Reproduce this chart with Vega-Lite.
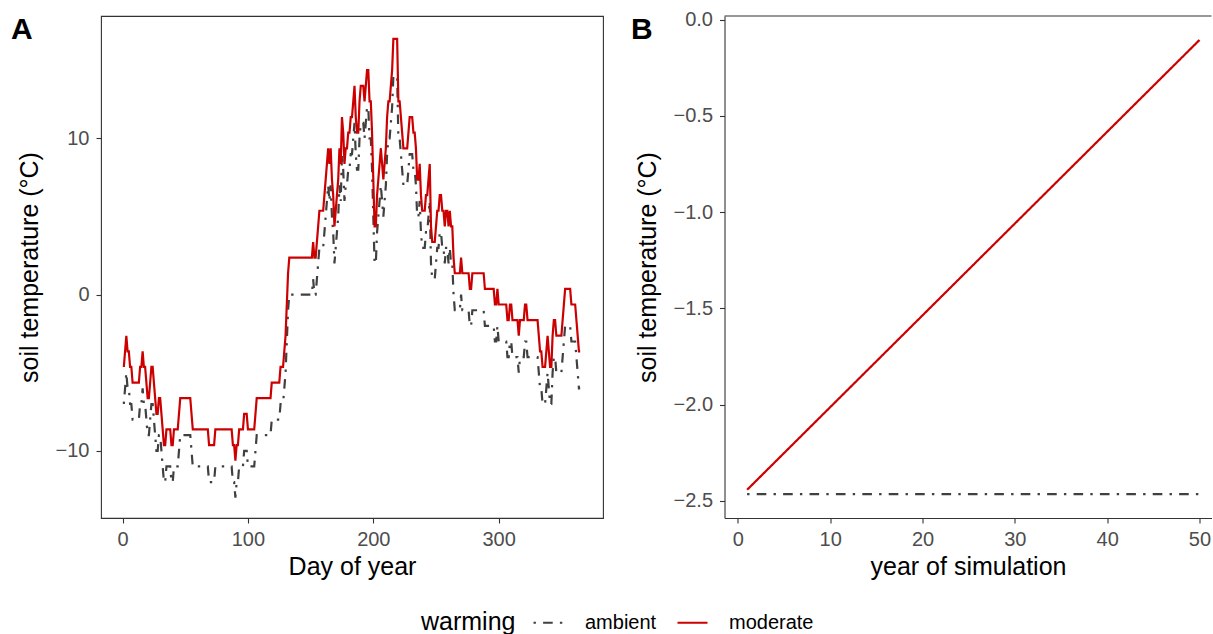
{
  "$schema": "https://vega.github.io/schema/vega-lite/v6.json",
  "padding": {"left": 10, "top": 9, "right": 0, "bottom": 0},
  "bounds": "flush",
  "spacing": 121.5,
  "config": {
    "font": "Liberation Sans",
    "view": {"stroke": "#333333", "strokeWidth": 1.1},
    "axis": {"grid": false, "domain": false, "tickColor": "#333333", "tickWidth": 1.1, "tickSize": 5, "labelColor": "#4D4D4D", "labelFontSize": 20, "titleFontSize": 25, "titleFontWeight": "normal", "titleColor": "#000000", "labelPadding": 6},
    "axisY": {"labelPadding": 7, "titlePadding": 13},
    "axisX": {"titlePadding": 5}
  },
  "datasets": {
    "daily": [
      {"day":1,"ambient":-7,"moderate":-4.63},{"day":2,"ambient":-6,"moderate":-3.63},{"day":3,"ambient":-5,"moderate":-2.63},{"day":4,"ambient":-6,"moderate":-3.63},{"day":5,"ambient":-6,"moderate":-3.63},{"day":6,"ambient":-7,"moderate":-4.63},{"day":7,"ambient":-7,"moderate":-4.63},{"day":8,"ambient":-8,"moderate":-5.63},{"day":13,"ambient":-8,"moderate":-5.63},{"day":14,"ambient":-7,"moderate":-4.63},{"day":15,"ambient":-7,"moderate":-4.63},{"day":16,"ambient":-6,"moderate":-3.63},{"day":17,"ambient":-7,"moderate":-4.63},{"day":18,"ambient":-7,"moderate":-4.63},{"day":19,"ambient":-8,"moderate":-5.63},{"day":20,"ambient":-9,"moderate":-6.63},{"day":21,"ambient":-9,"moderate":-6.63},{"day":22,"ambient":-8,"moderate":-5.63},{"day":23,"ambient":-7,"moderate":-4.63},{"day":24,"ambient":-7,"moderate":-4.63},{"day":25,"ambient":-8,"moderate":-5.63},{"day":26,"ambient":-9,"moderate":-6.63},{"day":27,"ambient":-10,"moderate":-7.63},{"day":28,"ambient":-10,"moderate":-7.63},{"day":29,"ambient":-9,"moderate":-6.63},{"day":30,"ambient":-9,"moderate":-6.63},{"day":31,"ambient":-10,"moderate":-7.63},{"day":32,"ambient":-11,"moderate":-8.63},{"day":33,"ambient":-12,"moderate":-9.63},{"day":34,"ambient":-12,"moderate":-9.63},{"day":35,"ambient":-11,"moderate":-8.63},{"day":38,"ambient":-11,"moderate":-8.63},{"day":39,"ambient":-12,"moderate":-9.63},{"day":40,"ambient":-12,"moderate":-9.63},{"day":41,"ambient":-11,"moderate":-8.63},{"day":44,"ambient":-11,"moderate":-8.63},{"day":45,"ambient":-10,"moderate":-7.63},{"day":46,"ambient":-9,"moderate":-6.63},{"day":54,"ambient":-9,"moderate":-6.63},{"day":55,"ambient":-10,"moderate":-7.63},{"day":56,"ambient":-11,"moderate":-8.63},{"day":68,"ambient":-11,"moderate":-8.63},{"day":69,"ambient":-12,"moderate":-9.63},{"day":73,"ambient":-12,"moderate":-9.63},{"day":74,"ambient":-11,"moderate":-8.63},{"day":87,"ambient":-11,"moderate":-8.63},{"day":88,"ambient":-12,"moderate":-9.63},{"day":89,"ambient":-12,"moderate":-9.63},{"day":90,"ambient":-13,"moderate":-10.63},{"day":91,"ambient":-12,"moderate":-9.63},{"day":92,"ambient":-12,"moderate":-9.63},{"day":93,"ambient":-11,"moderate":-8.63},{"day":96,"ambient":-11,"moderate":-8.63},{"day":97,"ambient":-10,"moderate":-7.63},{"day":99,"ambient":-10,"moderate":-7.63},{"day":100,"ambient":-11,"moderate":-8.63},{"day":105,"ambient":-11,"moderate":-8.63},{"day":106,"ambient":-10,"moderate":-7.63},{"day":107,"ambient":-9,"moderate":-6.63},{"day":118,"ambient":-9,"moderate":-6.63},{"day":119,"ambient":-8,"moderate":-5.63},{"day":125,"ambient":-8,"moderate":-5.63},{"day":126,"ambient":-7,"moderate":-4.63},{"day":128,"ambient":-7,"moderate":-4.63},{"day":129,"ambient":-6,"moderate":-3.63},{"day":130,"ambient":-5,"moderate":-2.63},{"day":131,"ambient":-3,"moderate":-0.63},{"day":132,"ambient":-1,"moderate":1.37},{"day":133,"ambient":0,"moderate":2.37},{"day":151,"ambient":0,"moderate":2.37},{"day":152,"ambient":1,"moderate":3.37},{"day":153,"ambient":0,"moderate":2.37},{"day":154,"ambient":0,"moderate":2.37},{"day":155,"ambient":1,"moderate":3.37},{"day":156,"ambient":2,"moderate":4.37},{"day":157,"ambient":3,"moderate":5.37},{"day":160,"ambient":3,"moderate":5.37},{"day":161,"ambient":4,"moderate":6.37},{"day":162,"ambient":5,"moderate":7.37},{"day":163,"ambient":6,"moderate":8.37},{"day":164,"ambient":7,"moderate":9.37},{"day":165,"ambient":6,"moderate":8.37},{"day":166,"ambient":7,"moderate":9.37},{"day":167,"ambient":5,"moderate":7.37},{"day":168,"ambient":4,"moderate":6.37},{"day":169,"ambient":2,"moderate":4.37},{"day":170,"ambient":3,"moderate":5.37},{"day":171,"ambient":4,"moderate":6.37},{"day":172,"ambient":5,"moderate":7.37},{"day":173,"ambient":7,"moderate":9.37},{"day":174,"ambient":6,"moderate":8.37},{"day":175,"ambient":9,"moderate":11.37},{"day":176,"ambient":8,"moderate":10.37},{"day":177,"ambient":6,"moderate":8.37},{"day":178,"ambient":7,"moderate":9.37},{"day":179,"ambient":7,"moderate":9.37},{"day":180,"ambient":8,"moderate":10.37},{"day":181,"ambient":8,"moderate":10.37},{"day":182,"ambient":9,"moderate":11.37},{"day":183,"ambient":9,"moderate":11.37},{"day":184,"ambient":10,"moderate":12.37},{"day":185,"ambient":11,"moderate":13.37},{"day":186,"ambient":9,"moderate":11.37},{"day":187,"ambient":8,"moderate":10.37},{"day":188,"ambient":8,"moderate":10.37},{"day":189,"ambient":10,"moderate":12.37},{"day":190,"ambient":11,"moderate":13.37},{"day":192,"ambient":11,"moderate":13.37},{"day":193,"ambient":10,"moderate":12.37},{"day":194,"ambient":11,"moderate":13.37},{"day":195,"ambient":12,"moderate":14.37},{"day":196,"ambient":12,"moderate":14.37},{"day":197,"ambient":10,"moderate":12.37},{"day":198,"ambient":10,"moderate":12.37},{"day":199,"ambient":8,"moderate":10.37},{"day":200,"ambient":5,"moderate":7.37},{"day":201,"ambient":2,"moderate":4.37},{"day":202,"ambient":2,"moderate":4.37},{"day":203,"ambient":4,"moderate":6.37},{"day":204,"ambient":5,"moderate":7.37},{"day":205,"ambient":6,"moderate":8.37},{"day":206,"ambient":7,"moderate":9.37},{"day":207,"ambient":6,"moderate":8.37},{"day":208,"ambient":5,"moderate":7.37},{"day":209,"ambient":6,"moderate":8.37},{"day":210,"ambient":7,"moderate":9.37},{"day":211,"ambient":9,"moderate":11.37},{"day":212,"ambient":10,"moderate":12.37},{"day":213,"ambient":10,"moderate":12.37},{"day":214,"ambient":11,"moderate":13.37},{"day":215,"ambient":12,"moderate":14.37},{"day":216,"ambient":14,"moderate":16.37},{"day":219,"ambient":14,"moderate":16.37},{"day":220,"ambient":10,"moderate":12.37},{"day":221,"ambient":10,"moderate":12.37},{"day":222,"ambient":9,"moderate":11.37},{"day":223,"ambient":8,"moderate":10.37},{"day":224,"ambient":7,"moderate":9.37},{"day":227,"ambient":7,"moderate":9.37},{"day":228,"ambient":8,"moderate":10.37},{"day":229,"ambient":9,"moderate":11.37},{"day":231,"ambient":9,"moderate":11.37},{"day":232,"ambient":8,"moderate":10.37},{"day":233,"ambient":8,"moderate":10.37},{"day":234,"ambient":7,"moderate":9.37},{"day":235,"ambient":5,"moderate":7.37},{"day":236,"ambient":5,"moderate":7.37},{"day":237,"ambient":6,"moderate":8.37},{"day":238,"ambient":4,"moderate":6.37},{"day":239,"ambient":3,"moderate":5.37},{"day":241,"ambient":3,"moderate":5.37},{"day":242,"ambient":4,"moderate":6.37},{"day":243,"ambient":4,"moderate":6.37},{"day":244,"ambient":5,"moderate":7.37},{"day":245,"ambient":6,"moderate":8.37},{"day":246,"ambient":2,"moderate":4.37},{"day":247,"ambient":1,"moderate":3.37},{"day":249,"ambient":1,"moderate":3.37},{"day":250,"ambient":2,"moderate":4.37},{"day":251,"ambient":3,"moderate":5.37},{"day":252,"ambient":3,"moderate":5.37},{"day":253,"ambient":4,"moderate":6.37},{"day":254,"ambient":4,"moderate":6.37},{"day":255,"ambient":3,"moderate":5.37},{"day":256,"ambient":3,"moderate":5.37},{"day":257,"ambient":2,"moderate":4.37},{"day":258,"ambient":3,"moderate":5.37},{"day":259,"ambient":3,"moderate":5.37},{"day":260,"ambient":2,"moderate":4.37},{"day":261,"ambient":3,"moderate":5.37},{"day":262,"ambient":2,"moderate":4.37},{"day":263,"ambient":2,"moderate":4.37},{"day":264,"ambient":0,"moderate":2.37},{"day":265,"ambient":-1,"moderate":1.37},{"day":269,"ambient":-1,"moderate":1.37},{"day":270,"ambient":0,"moderate":2.37},{"day":271,"ambient":-1,"moderate":1.37},{"day":276,"ambient":-1,"moderate":1.37},{"day":277,"ambient":-2,"moderate":0.37},{"day":278,"ambient":-2,"moderate":0.37},{"day":279,"ambient":-1,"moderate":1.37},{"day":288,"ambient":-1,"moderate":1.37},{"day":289,"ambient":-2,"moderate":0.37},{"day":296,"ambient":-2,"moderate":0.37},{"day":297,"ambient":-3,"moderate":-0.63},{"day":298,"ambient":-3,"moderate":-0.63},{"day":299,"ambient":-2,"moderate":0.37},{"day":300,"ambient":-3,"moderate":-0.63},{"day":306,"ambient":-3,"moderate":-0.63},{"day":307,"ambient":-4,"moderate":-1.63},{"day":308,"ambient":-4,"moderate":-1.63},{"day":309,"ambient":-3,"moderate":-0.63},{"day":310,"ambient":-3,"moderate":-0.63},{"day":311,"ambient":-4,"moderate":-1.63},{"day":315,"ambient":-4,"moderate":-1.63},{"day":316,"ambient":-5,"moderate":-2.63},{"day":317,"ambient":-4,"moderate":-1.63},{"day":320,"ambient":-4,"moderate":-1.63},{"day":321,"ambient":-3,"moderate":-0.63},{"day":322,"ambient":-3,"moderate":-0.63},{"day":323,"ambient":-4,"moderate":-1.63},{"day":331,"ambient":-4,"moderate":-1.63},{"day":332,"ambient":-5,"moderate":-2.63},{"day":333,"ambient":-6,"moderate":-3.63},{"day":334,"ambient":-6,"moderate":-3.63},{"day":335,"ambient":-7,"moderate":-4.63},{"day":337,"ambient":-7,"moderate":-4.63},{"day":338,"ambient":-6,"moderate":-3.63},{"day":339,"ambient":-5,"moderate":-2.63},{"day":340,"ambient":-6,"moderate":-3.63},{"day":341,"ambient":-7,"moderate":-4.63},{"day":342,"ambient":-7,"moderate":-4.63},{"day":343,"ambient":-5,"moderate":-2.63},{"day":344,"ambient":-4,"moderate":-1.63},{"day":345,"ambient":-4,"moderate":-1.63},{"day":346,"ambient":-5,"moderate":-2.63},{"day":350,"ambient":-5,"moderate":-2.63},{"day":351,"ambient":-4,"moderate":-1.63},{"day":352,"ambient":-3,"moderate":-0.63},{"day":353,"ambient":-2,"moderate":0.37},{"day":357,"ambient":-2,"moderate":0.37},{"day":358,"ambient":-3,"moderate":-0.63},{"day":361,"ambient":-3,"moderate":-0.63},{"day":362,"ambient":-4,"moderate":-1.63},{"day":363,"ambient":-5,"moderate":-2.63},{"day":364,"ambient":-6,"moderate":-3.63},{"day":365,"ambient":-6,"moderate":-3.63}
    ],
    "yearly": [
      {"year":1,"ambient":-2.465,"moderate":-2.442},
      {"year":50,"ambient":-2.465,"moderate":-0.106}
    ]
  },
  "hconcat": [
    {
      "width": 502,
      "height": 502,
      "title": {"text": "A", "anchor": "start", "frame": "bounds", "fontSize": 30, "fontWeight": "bold", "color": "#000000", "offset": 0, "dx": -6, "dy": 29},
      "data": {"name": "daily"},
      "transform": [{"fold": ["ambient", "moderate"], "as": ["warming", "temp"]}],
      "mark": {"type": "line", "strokeWidth": 2.2},
      "encoding": {
        "x": {"field": "day", "type": "quantitative", "scale": {"domain": [-17.2, 383.2], "nice": false, "zero": false}, "axis": {"values": [0, 100, 200, 300], "title": "Day of year"}},
        "y": {"field": "temp", "type": "quantitative", "scale": {"domain": [-14.3, 17.84], "nice": false, "zero": false}, "axis": {"values": [-10, 0, 10], "title": "soil temperature (°C)"}},
        "color": {"field": "warming", "type": "nominal", "scale": {"domain": ["ambient", "moderate"], "range": ["#404040", "#CC0000"]}, "legend": {"orient": "none", "legendX": 320, "legendY": 590, "direction": "horizontal", "titleOrient": "left", "titleAnchor": "middle", "titleBaseline": "line-top", "titleLineHeight": 6.5, "titleFontSize": 25, "titleFontWeight": "normal", "titleColor": "#000000", "titlePadding": 16, "labelFontSize": 20, "labelColor": "#000000", "labelOffset": 20, "columnPadding": 16, "symbolType": "stroke", "symbolSize": 900, "symbolStrokeWidth": 2.2}},
        "strokeDash": {"field": "warming", "type": "nominal", "scale": {"domain": ["ambient", "moderate"], "range": [[2.4, 7.2, 9.6, 7.2], [1, 0]]}, "legend": {"orient": "none", "legendX": 320, "legendY": 590, "direction": "horizontal", "titleOrient": "left", "titleAnchor": "middle", "titleBaseline": "line-top", "titleLineHeight": 6.5, "titleFontSize": 25, "titleFontWeight": "normal", "titleColor": "#000000", "titlePadding": 16, "labelFontSize": 20, "labelColor": "#000000", "labelOffset": 20, "columnPadding": 16, "symbolType": "stroke", "symbolSize": 900, "symbolStrokeWidth": 2.2}}
      }
    },
    {
      "width": 487,
      "height": 502,
      "title": {"text": "B", "anchor": "start", "frame": "bounds", "fontSize": 30, "fontWeight": "bold", "color": "#000000", "offset": 0, "dx": -4, "dy": 35},
      "view": {"stroke": null},
      "layer": [
        {
          "data": {"name": "yearly"},
          "transform": [{"fold": ["ambient", "moderate"], "as": ["warming", "temp"]}],
          "mark": {"type": "line", "strokeWidth": 2.2},
          "encoding": {
            "x": {"field": "year", "type": "quantitative", "scale": {"domain": [-1.45, 51.3], "nice": false, "zero": false}, "axis": {"values": [0, 10, 20, 30, 40, 50], "title": "year of simulation", "domain": true, "domainColor": "#333333", "domainWidth": 1.1}},
            "y": {"field": "temp", "type": "quantitative", "scale": {"domain": [-2.5885, 0.0185], "nice": false, "zero": false}, "axis": {"values": [-2.5, -2, -1.5, -1, -0.5, 0], "format": ".1f", "title": "soil temperature (°C)", "domain": true, "domainColor": "#333333", "domainWidth": 1.1}},
            "color": {"field": "warming", "type": "nominal", "scale": {"domain": ["ambient", "moderate"], "range": ["#404040", "#CC0000"]}, "legend": {"orient": "none", "legendX": 320, "legendY": 590, "direction": "horizontal", "titleOrient": "left", "titleAnchor": "middle", "titleBaseline": "line-top", "titleLineHeight": 6.5, "titleFontSize": 25, "titleFontWeight": "normal", "titleColor": "#000000", "titlePadding": 16, "labelFontSize": 20, "labelColor": "#000000", "labelOffset": 20, "columnPadding": 16, "symbolType": "stroke", "symbolSize": 900, "symbolStrokeWidth": 2.2}},
            "strokeDash": {"field": "warming", "type": "nominal", "scale": {"domain": ["ambient", "moderate"], "range": [[2.4, 7.2, 9.6, 7.2], [1, 0]]}, "legend": {"orient": "none", "legendX": 320, "legendY": 590, "direction": "horizontal", "titleOrient": "left", "titleAnchor": "middle", "titleBaseline": "line-top", "titleLineHeight": 6.5, "titleFontSize": 25, "titleFontWeight": "normal", "titleColor": "#000000", "titlePadding": 16, "labelFontSize": 20, "labelColor": "#000000", "labelOffset": 20, "columnPadding": 16, "symbolType": "stroke", "symbolSize": 900, "symbolStrokeWidth": 2.2}}
          }
        },
        {
          "data": {"values": [{}]},
          "mark": {"type": "rule", "color": "#333333", "strokeWidth": 1.1},
          "encoding": {"y": {"datum": 0.0185}}
        }
      ]
    }
  ]
}
